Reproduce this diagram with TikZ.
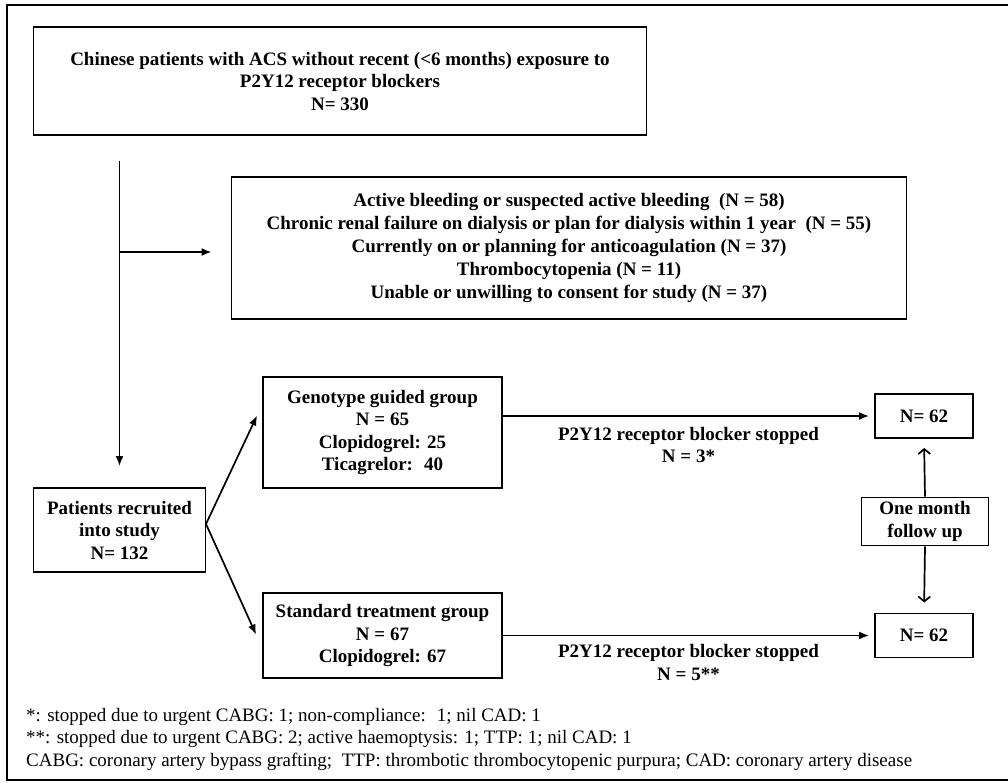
\documentclass[tikz,border=0pt]{standalone}
\usepackage{fontspec}
\setmainfont{Liberation Serif}
\usetikzlibrary{arrows.meta}

\begin{document}
\begin{tikzpicture}[x=1pt,y=1pt,
    box/.style={draw,line width=1.9pt,inner sep=0pt,align=center,font=\bfseries\fontsize{19}{22.5}\selectfont},
    lbl/.style={inner sep=0pt,align=center,font=\bfseries\fontsize{19}{22.5}\selectfont},
    arr/.style={line width=1.7pt,-{Latex[length=10pt,width=8pt]}},
    fup/.style={line width=1.7pt,-{Straight Barb[length=5pt,width=12pt]}}]
  \useasboundingbox (0,0) rectangle (1008,-782);
  \draw[line width=2.2pt] (1008,-5) -- (7,-5) -- (7,-780) -- (1008,-780);
  % boxes
  \node[box,minimum width=613,minimum height=108] (acs) at (340,-81)
    {Chinese patients with ACS without recent (<6 months) exposure to\\P2Y12 receptor blockers\\N= 330};
  \node[box,minimum width=675,minimum height=142,font=\bfseries\fontsize{19}{23}\selectfont] (excl) at (569,-248)
    {Active bleeding or suspected active bleeding~ (N = 58)\\
     Chronic renal failure on dialysis or plan for dialysis within 1 year~ (N = 55)\\
     Currently on or planning for anticoagulation (N = 37)\\
     Thrombocytopenia (N = 11)\\
     Unable or unwilling to consent for study (N = 37)};
  \node[box,minimum width=172,minimum height=84] (patients) at (119.5,-530)
    {Patients recruited\\into study\\N= 132};
  \node[box,minimum width=239,minimum height=111] (geno) at (382.5,-432.5)
    {Genotype guided group\\N = 65\\Clopidogrel: 25\\Ticagrelor:~ 40};
  \node[box,minimum width=239,minimum height=85] (std) at (382.5,-635.5)
    {Standard treatment group\\N = 67\\Clopidogrel: 67};
  \node[box,minimum width=98,minimum height=44] (n62a) at (924,-416) {N= 62};
  \node[box,minimum width=98,minimum height=44] (n62b) at (924,-635.5) {N= 62};
  \node[box,minimum width=127,minimum height=48] (month) at (925,-521.5) {One month\\follow up};
  % connectors
  \coordinate (split) at (119.5,-252);
  \coordinate (fork) at (206,-524);
  \draw[arr,shorten <=25pt,shorten >=21pt] (patients.north |- acs.south) -- (patients.north);
  \draw[arr,shorten >=19pt] (split) -- (split -| excl.west);
  \draw[arr] (fork) -- ([xshift=-5pt,yshift=17pt]geno.west);
  \draw[arr] (fork) -- ([xshift=-6pt,yshift=1pt]std.west);
  \draw[arr,shorten >=5pt] (geno.east |- n62a) -- (n62a.west)
    node[lbl,midway,below=10pt] (stopa) {P2Y12 receptor blocker stopped\\N = 3*};
  \draw[arr,shorten >=5pt] (std.east) -- (n62b.west)
    node[lbl,midway,below=8pt] (stopb) {P2Y12 receptor blocker stopped\\N = 5**};
  \draw[fup,shorten >=9pt] (month.north) -- (n62a.south);
  \draw[fup,shorten >=10pt] (month.south) -- (n62b.north);
  % footnotes
  \node[anchor=north west,align=left,inner sep=0pt,font=\fontsize{19}{22.5}\selectfont] (notes) at (26,-708)
    {*: stopped due to urgent CABG: 1; non-compliance:~ 1; nil CAD: 1\\
     **: stopped due to urgent CABG: 2; active haemoptysis: 1; TTP: 1; nil CAD: 1\\
     CABG: coronary artery bypass grafting;~ TTP: thrombotic thrombocytopenic purpura; CAD: coronary artery disease};
\end{tikzpicture}
\end{document}
